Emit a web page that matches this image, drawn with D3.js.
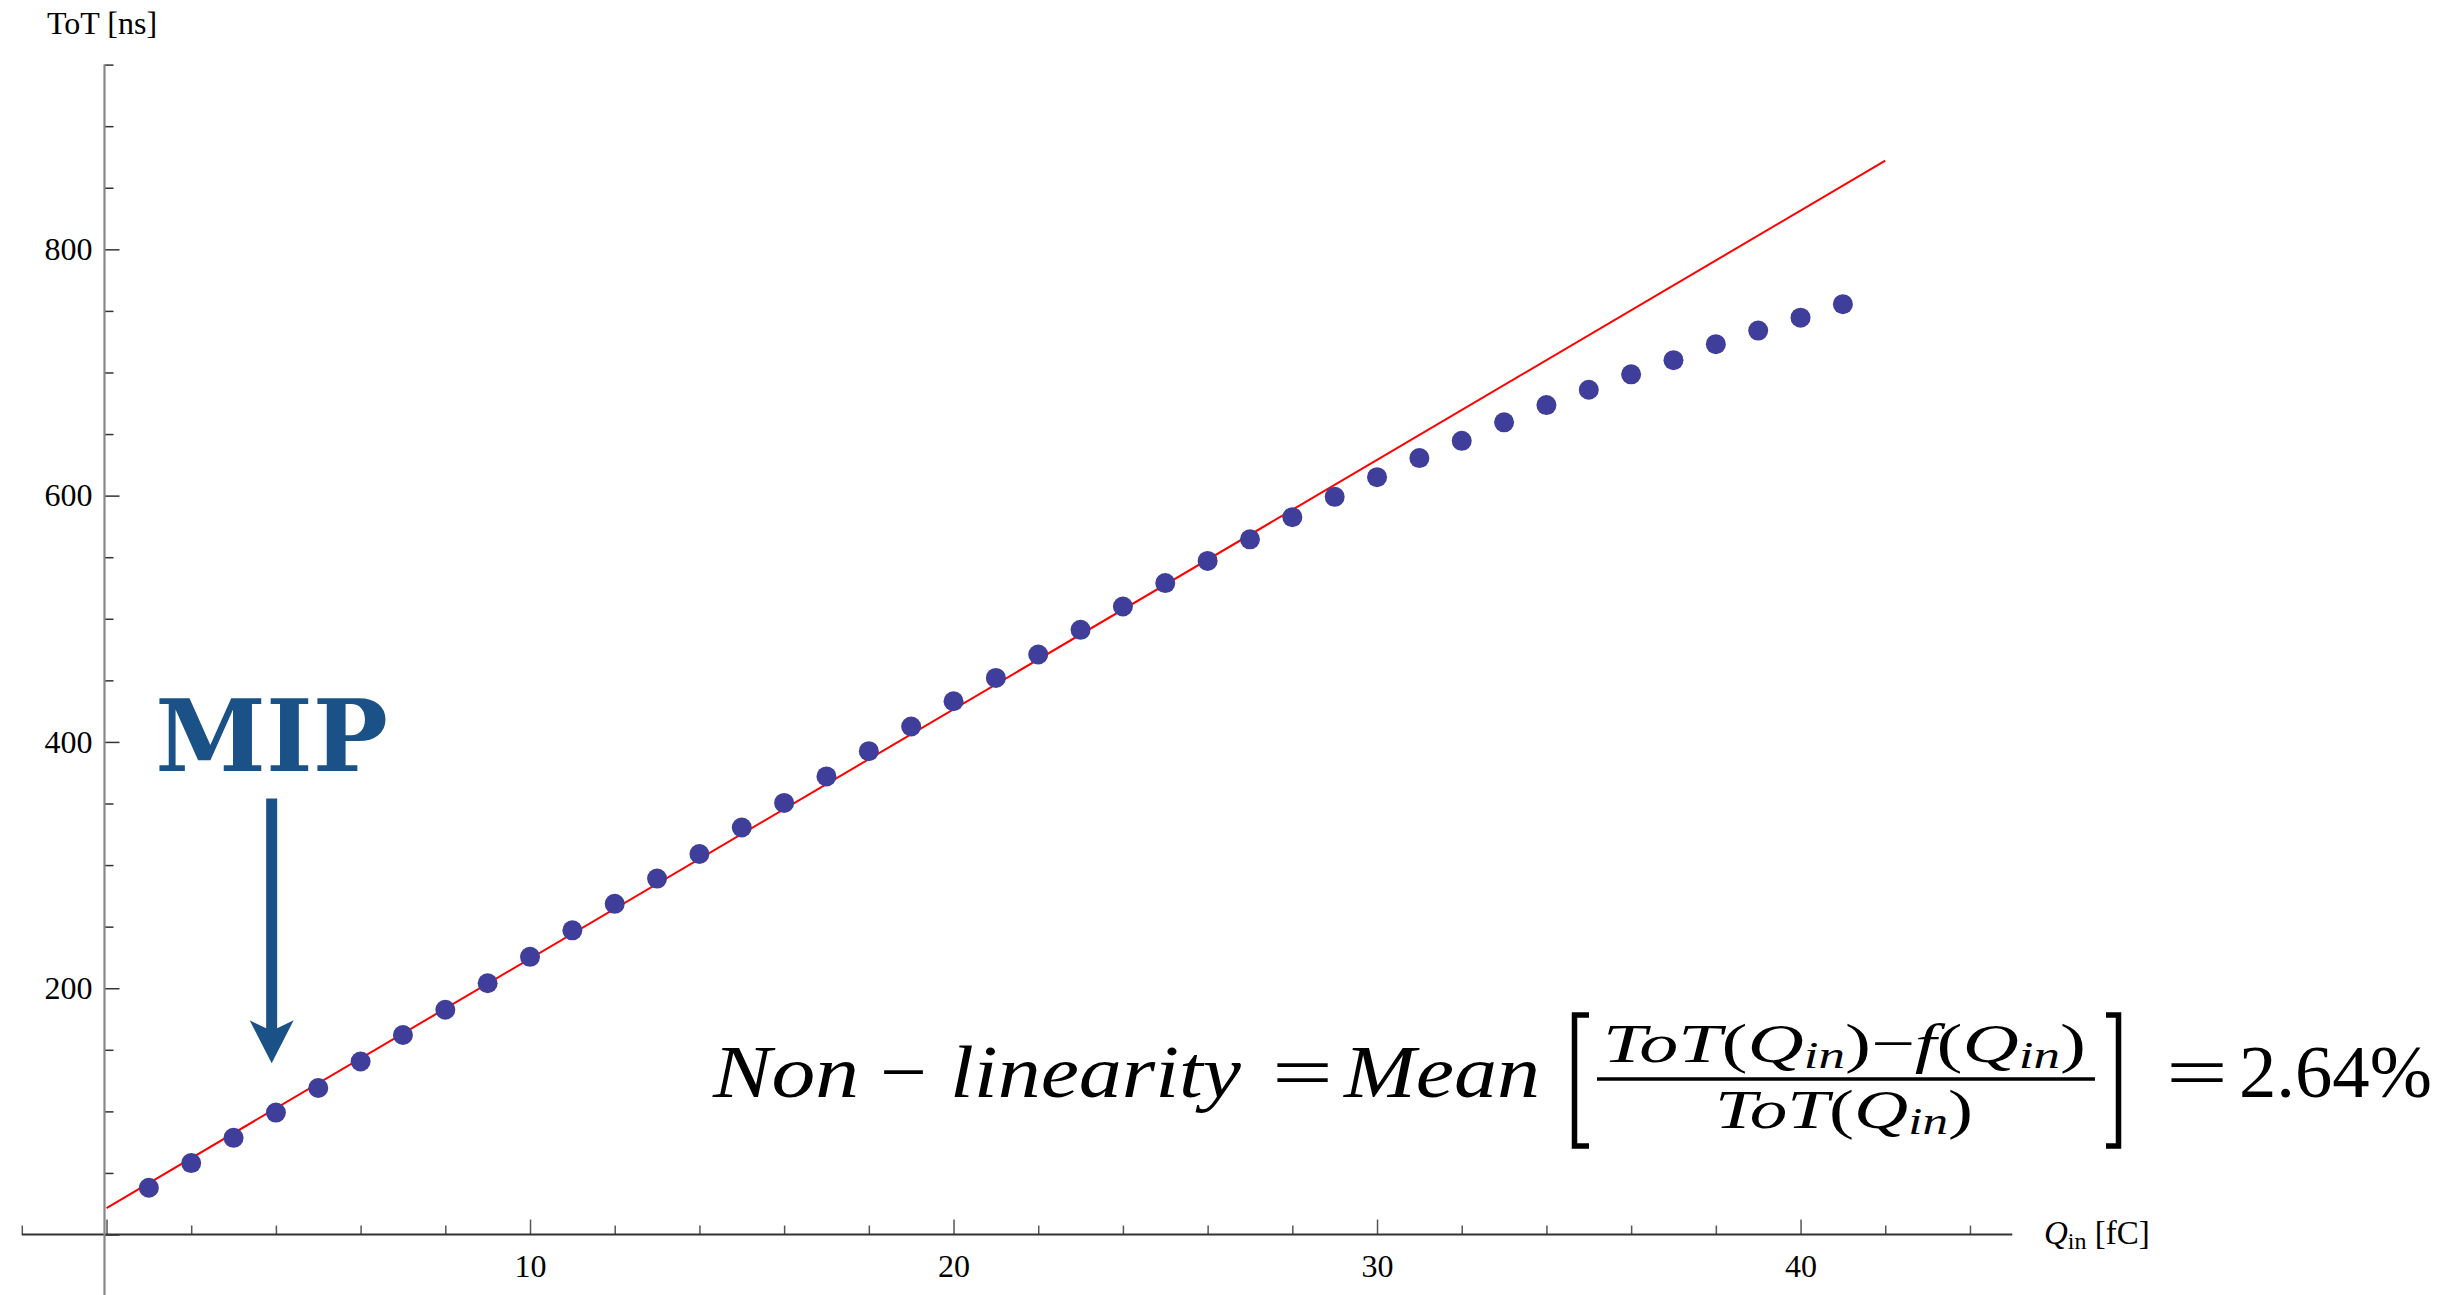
<!DOCTYPE html>
<html>
<head>
<meta charset="utf-8">
<script src="https://cdn.jsdelivr.net/npm/d3@7"></script>
<style>
html,body{margin:0;padding:0;background:#fff;}
svg{display:block;}
</style>
</head>
<body>
<svg id="chart" width="2444" height="1295"></svg>
<script>
// ---------------- data ----------------
const qIn = [1,2,3,4,5,6,7,8,9,10,11,12,13,14,15,16,17,18,19,20,21,22,23,24,25,26,27,28,29,30,31,32,33,34,35,36,37,38,39,40,41];
const tot = [38,58,78.5,99,119,140.5,162,182.5,204,225.5,247,268.5,289,309,330.5,350.5,372,392.5,412.5,433,452,471,491,510,529,547,564.5,582.5,599,615,630.5,644.5,659.5,673.5,686,698.5,710,723,734,744.5,755.5];
const fitIntercept = 21.5;
const fitSlope = 20.25;
const fitRange = [0, 42];
const xMajorTicks = [0,10,20,30,40];
const xTickLabels = [10,20,30,40];
const xMinorTicks = [-2,2,4,6,8,12,14,16,18,22,24,26,28,32,34,36,38,42,44];
const yMajorTicks = [0,200,400,600,800];
const yTickLabels = [200,400,600,800];
const yMinorTicks = [-50,50,100,150,250,300,350,450,500,550,650,700,750,850,900,950];
const yAxisTitle = "ToT [ns]";
const mipLabel = "MIP";
const mipAt = {q: 3.9, textTot: 376, arrowTop: 354, arrowTip: 139};

// ---------------- scales ----------------
const svg = d3.select("#chart");
const x = d3.scaleLinear().domain([-2, 45]).range([21.8, 2012.3]);
const y = d3.scaleLinear().domain([-50, 950]).range([1296.1, 64.6]);
const serif = "'Liberation Serif','Times New Roman',serif";

// ---------------- axes ----------------
const gx = svg.append("g").attr("transform", `translate(0,${y(0)})`);
gx.append("g").call(d3.axisBottom(x).tickValues(xMinorTicks).tickSize(-9).tickFormat(""))
  .call(g => g.select(".domain").remove());
gx.append("g").call(d3.axisBottom(x).tickValues(xMajorTicks).tickSize(-15).tickPadding(20)
    .tickFormat(d => xTickLabels.includes(d) ? d : ""))
  .call(g => g.select(".domain").remove());
gx.append("line").attr("x1", x(-2)).attr("x2", x(45)).attr("stroke", "#333").attr("stroke-width", 2);
gx.selectAll(".tick line").attr("stroke", "#555").attr("stroke-width", 1.5);
gx.selectAll(".tick text").attr("font-family", serif).attr("font-size", 32).attr("fill", "#000");

const gy = svg.append("g").attr("transform", `translate(${x(0) - 2},0)`);
gy.append("g").call(d3.axisLeft(y).tickValues(yMinorTicks).tickSize(-9).tickFormat(""))
  .call(g => g.select(".domain").remove());
gy.append("g").call(d3.axisLeft(y).tickValues(yMajorTicks).tickSize(-15).tickPadding(12)
    .tickFormat(d => yTickLabels.includes(d) ? d : ""))
  .call(g => g.select(".domain").remove());
gy.append("line").attr("y1", y(950)).attr("y2", y(-50)).attr("stroke", "#888").attr("stroke-width", 2.2);
gy.selectAll(".tick line").attr("stroke", "#333").attr("stroke-width", 1.5);
gy.selectAll(".tick text").attr("font-family", serif).attr("font-size", 32).attr("fill", "#000");

// axis titles
svg.append("text").attr("x", 47).attr("y", 34).attr("font-family", serif).attr("font-size", 32)
  .text(yAxisTitle);
const xt = svg.append("text").attr("x", 2044).attr("y", 1244).attr("font-family", serif).attr("font-size", 33);
xt.append("tspan").attr("font-style", "italic").text("Q");
xt.append("tspan").attr("font-size", 24).attr("dy", 5).text("in");
xt.append("tspan").attr("dy", -5).text(" [fC]");

// ---------------- fit line ----------------
svg.append("line")
  .attr("x1", x(fitRange[0])).attr("y1", y(fitIntercept + fitSlope * fitRange[0]))
  .attr("x2", x(fitRange[1])).attr("y2", y(fitIntercept + fitSlope * fitRange[1]))
  .attr("stroke", "#ff0000").attr("stroke-width", 2);

// ---------------- points ----------------
svg.append("g").selectAll("circle").data(qIn.map((q, i) => ({q, t: tot[i]})))
  .join("circle")
  .attr("cx", d => x(d.q)).attr("cy", d => y(d.t)).attr("r", 10)
  .attr("fill", "#3f3f9b");

// ---------------- MIP annotation ----------------
const mipColor = "#1a5187";
const ax = x(mipAt.q);
svg.append("text").attr("x", ax).attr("y", y(mipAt.textTot)).attr("text-anchor", "middle")
  .attr("font-family", "'DejaVu Serif',serif").attr("font-weight", "bold").attr("font-size", 100)
  .attr("fill", mipColor).text(mipLabel);
const arrTop = y(mipAt.arrowTop), arrTip = y(mipAt.arrowTip);
svg.append("path")
  .attr("d", `M${ax-5.5},${arrTop} L${ax+5.5},${arrTop} L${ax+5.5},${arrTip-35} L${ax+22},${arrTip-43} L${ax},${arrTip} L${ax-22},${arrTip-43} L${ax-5.5},${arrTip-35} Z`)
  .attr("fill", mipColor);

// ---------------- formula ----------------
const F = svg.append("g");
function piece(parts, x0, x1, base, size) {
  const g = F.append("g");
  const t = g.append("text").attr("x", 0).attr("y", 0).attr("font-family", serif).attr("font-size", size);
  parts.forEach(p => {
    const s = t.append("tspan").text(p.t);
    if (p.i) s.attr("font-style", "italic");
    if (p.sub) s.attr("font-size", size * 0.68).attr("dy", size * 0.11);
    if (p.up) s.attr("dy", -size * 0.11);
  });
  const w = t.node().getComputedTextLength();
  g.attr("transform", `translate(${x0},${base}) scale(${(x1 - x0) / w},1)`);
}
const M = 74, S = 55;
piece([{t:"Non", i:1}], 713, 859, 1097, M);
piece([{t:"−"}], 880, 927, 1097, M);
piece([{t:"linearity", i:1}], 950, 1241, 1097, M);
piece([{t:"="}], 1272, 1333, 1097, M);
piece([{t:"Mean", i:1}], 1344, 1540, 1097, M);
piece([{t:"ToT", i:1},{t:"("},{t:"Q", i:1},{t:"in", i:1, sub:1},{t:")", up:1},{t:"−"},{t:"f", i:1},{t:"("},{t:"Q", i:1},{t:"in", i:1, sub:1},{t:")", up:1}], 1603, 2086, 1062, S);
piece([{t:"ToT", i:1},{t:"("},{t:"Q", i:1},{t:"in", i:1, sub:1},{t:")", up:1}], 1715, 1973, 1128, S);
piece([{t:"="}], 2166, 2228, 1097, M);
piece([{t:"2.64%"}], 2239, 2432, 1097, M);
F.append("line").attr("x1", 1597).attr("x2", 2095).attr("y1", 1079).attr("y2", 1079)
  .attr("stroke", "#000").attr("stroke-width", 3.5);
F.append("path").attr("d", "M1589,1015 L1574.5,1015 L1574.5,1146 L1589,1146")
  .attr("fill", "none").attr("stroke", "#000").attr("stroke-width", 5.5);
F.append("path").attr("d", "M2106,1015 L2118.5,1015 L2118.5,1146 L2106,1146")
  .attr("fill", "none").attr("stroke", "#000").attr("stroke-width", 5.5);
</script>
</body>
</html>
